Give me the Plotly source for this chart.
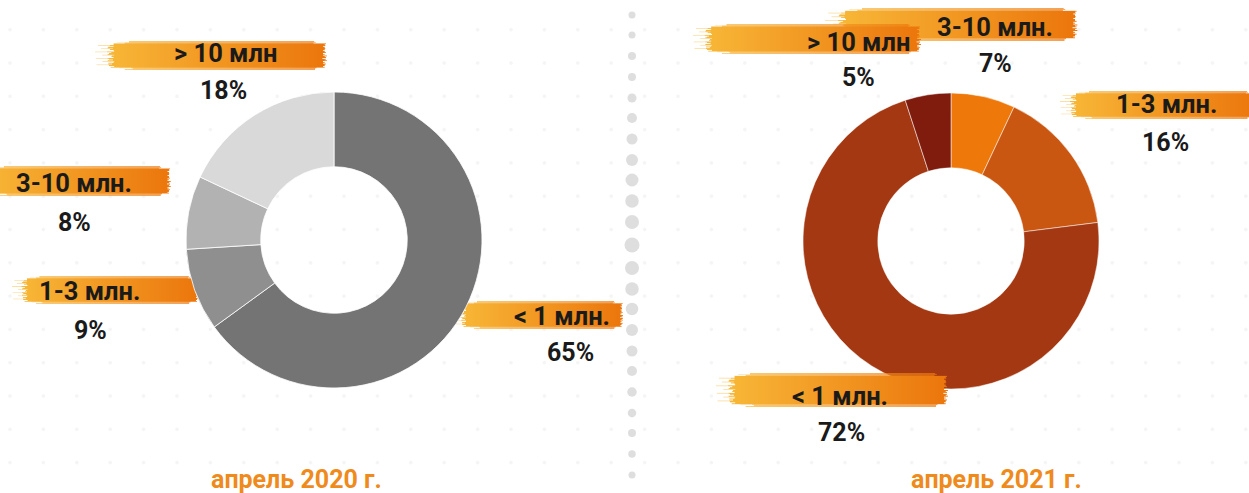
import base64
import struct
import zlib

import numpy as np
import plotly.graph_objects as go

# ---------------- data ----------------
categories_2020 = ["< 1 млн.", "1-3 млн.", "3-10 млн.", "> 10 млн"]
values_2020 = [65, 9, 8, 18]
colors_2020 = ["#747474", "#8f8f8f", "#b2b2b2", "#d9d9d9"]

categories_2021 = ["3-10 млн.", "1-3 млн.", "< 1 млн.", "> 10 млн"]
values_2021 = [7, 16, 72, 5]
colors_2021 = ["#ee780a", "#c95712", "#a33812", "#7f1c0e"]

titles = ["апрель 2020 г.", "апрель 2021 г."]

W, H = 1249, 493

# ---------------- layout positions (pixels) ----------------
# label centre, percent centre, brush box (x0, x1, y0, y1)
pos_2020 = {
    "> 10 млн": ((225, 53), (224, 90), (95, 332, 41, 70)),
    "3-10 млн.": ((74, 183), (74, 222), (-25, 175, 166, 196)),
    "1-3 млн.": ((89, 291), (91, 330), (12, 203, 276, 304)),
    "< 1 млн.": ((562, 316), (570, 352), (452, 627, 301, 329)),
}
pos_2021 = {
    "3-10 млн.": ((995, 27), (995, 63), (825, 1083, 8, 41)),
    "> 10 млн": ((858, 42), (858, 78), (693, 926, 24, 54)),
    "1-3 млн.": ((1166, 104), (1165, 142), (1060, 1262, 91, 119)),
    "< 1 млн.": ((840, 396), (841, 432), (716, 953, 373, 407)),
}
title_pos = [(296, 479), (996, 479)]


def png_uri(arr):
    h, w, _ = arr.shape
    raw = b"".join(b"\x00" + arr[r].tobytes() for r in range(h))

    def chunk(t, d):
        return struct.pack(">I", len(d)) + t + d + struct.pack(">I", zlib.crc32(t + d) & 0xFFFFFFFF)

    png = (b"\x89PNG\r\n\x1a\n"
           + chunk(b"IHDR", struct.pack(">IIBBBBB", w, h, 8, 6, 0, 0, 0))
           + chunk(b"IDAT", zlib.compress(raw, 9))
           + chunk(b"IEND", b""))
    return "data:image/png;base64," + base64.b64encode(png).decode()


# faint dotted background grid
X, Y = np.meshgrid(np.arange(W) + 0.5, np.arange(H) + 0.5)
sx, sy = 33.4, 33.3
dx = np.mod(X - 10, sx)
dx = np.minimum(dx, sx - dx)
dy = np.mod(Y - 396, sy)
dy = np.minimum(dy, sy - dy)
d = np.sqrt(dx ** 2 + dy ** 2)
m = np.clip(2.3 - d, 0, 1)
bg = np.zeros((H, W, 4), dtype=np.uint8)
bg[..., 0:3] = 225
bg[..., 3] = (m * 85).astype(np.uint8)
bg_uri = png_uri(bg)

# brush-stroke image
Hb, Wb = 36, 320
ys = (np.arange(Hb) + 0.5) / Hb
xs = (np.arange(Wb) + 0.5) / Wb
L = 0.035 + 0.03 * np.abs(np.sin(ys * 41 + 0.3)) + 0.02 * np.abs(np.sin(ys * 97 + 2.1))
R = 0.985 - 0.015 * np.abs(np.sin(ys * 59 + 0.9)) - 0.01 * np.abs(np.sin(ys * 23 + 0.4))
edge = (ys < 0.08) | (ys > 0.92)
L = L + np.where(edge, 0.08, 0.0)
R = R - np.where(edge, 0.04, 0.0)
XX = xs[None, :]
core = (XX >= L[:, None]) & (XX <= R[:, None])
streak_rows = np.sin(ys * 170 + 0.5) > 0.3
streak = (XX >= (L - 0.05)[:, None]) & (XX < L[:, None]) & streak_rows[:, None]
alpha = np.where(core, 1.0, np.where(streak, 0.45, 0.0))
alpha = alpha * np.where(edge, 0.7, 1.0)[:, None]
c0 = np.array([248, 184, 56], dtype=float)
c1 = np.array([236, 118, 12], dtype=float)
t = np.clip((xs - 0.05) / 0.93, 0, 1)
col = c0[None, :] + (c1 - c0)[None, :] * t[:, None]
br = np.zeros((Hb, Wb, 4), dtype=np.uint8)
br[..., 0:3] = col[None, :, :].astype(np.uint8)
br[..., 3] = (alpha * 255).astype(np.uint8)
brush_uri = png_uri(br)


def img(src, x0, x1, y0, y1, layer="below"):
    return dict(source=src, xref="paper", yref="paper", x=x0 / W, y=1 - y0 / H,
                sizex=(x1 - x0) / W, sizey=(y1 - y0) / H, xanchor="left",
                yanchor="top", sizing="stretch", layer=layer)


images = [img(bg_uri, 0, W, 0, H)]
for cat in ["> 10 млн", "3-10 млн.", "1-3 млн.", "< 1 млн."]:
    x0, x1, y0, y1 = pos_2020[cat][2]
    images.append(img(brush_uri, x0, x1, y0, y1))
for cat in ["3-10 млн.", "> 10 млн", "1-3 млн.", "< 1 млн."]:
    x0, x1, y0, y1 = pos_2021[cat][2]
    images.append(img(brush_uri, x0, x1, y0, y1, "above" if cat == "< 1 млн." else "below"))

fig = go.Figure()


def dom(cx, cy, r):
    return dict(x=[(cx - r) / W, (cx + r) / W], y=[1 - (cy + r) / H, 1 - (cy - r) / H])


fig.add_trace(go.Pie(labels=categories_2020, values=values_2020, sort=False,
                     direction="clockwise", rotation=0, hole=0.495,
                     marker=dict(colors=colors_2020, line=dict(color="white", width=0.8)),
                     textinfo="none", hoverinfo="skip", domain=dom(334, 240, 148)))
fig.add_trace(go.Pie(labels=categories_2021, values=values_2021, sort=False,
                     direction="clockwise", rotation=0, hole=0.495,
                     marker=dict(colors=colors_2021, line=dict(color="white", width=0.5)),
                     textinfo="none", hoverinfo="skip", domain=dom(951, 241, 148)))

# dotted vertical separator
sep_y = [15, 35, 56, 77, 98, 118, 139, 160, 180, 201, 222, 245, 268, 289, 309, 330,
         351, 371, 392, 413, 433, 454, 475]
sep_s = [7, 7, 8, 8, 9, 10, 11, 12, 13, 13.5, 14, 15, 14, 13.5, 12.5, 12, 11, 10,
         9.5, 8.5, 8, 7.5, 7]
fig.add_trace(go.Scatter(x=[632] * len(sep_y), y=sep_y, mode="markers",
                         marker=dict(size=sep_s, color="#d0d0d0", line=dict(width=0)),
                         hoverinfo="skip", showlegend=False))

ann = []
FONT = "Roboto"
for cats, vals, pos in [(categories_2020, values_2020, pos_2020),
                        (categories_2021, values_2021, pos_2021)]:
    for c, v in zip(cats, vals):
        (lx, ly), (px, py), _ = pos[c]
        ann.append(dict(x=lx / W, y=1 - ly / H, xref="paper", yref="paper", text=f"<b>{c}</b>",
                        showarrow=False, xanchor="center", yanchor="middle",
                        font=dict(family=FONT, size=25.5, color="#1a1a1a")))
        ann.append(dict(x=px / W, y=1 - py / H, xref="paper", yref="paper", text=f"<b>{v}%</b>",
                        showarrow=False, xanchor="center", yanchor="middle",
                        font=dict(family=FONT, size=25, color="#1a1a1a")))
for t_, (tx, ty) in zip(titles, title_pos):
    ann.append(dict(x=tx / W, y=1 - ty / H, xref="paper", yref="paper", text=f"<b>{t_}</b>",
                    showarrow=False, xanchor="center", yanchor="middle",
                    font=dict(family=FONT, size=25, color="#ef8a1c")))

fig.update_layout(
    width=W, height=H, margin=dict(l=0, r=0, t=0, b=0),
    paper_bgcolor="white", plot_bgcolor="rgba(0,0,0,0)",
    showlegend=False, hovermode=False,
    xaxis=dict(range=[0, W], visible=False, domain=[0, 1], fixedrange=True),
    yaxis=dict(range=[H, 0], visible=False, domain=[0, 1], fixedrange=True),
    images=images, annotations=ann,
)

fig.write_html("out.html", config={"displayModeBar": False},
               post_script="document.body.style.margin='0';document.body.style.overflow='hidden';")
